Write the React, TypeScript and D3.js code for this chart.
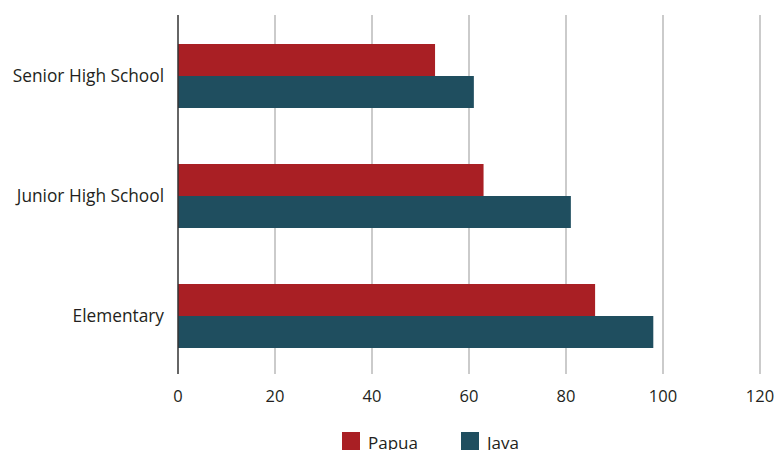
import React from "react";
import * as d3 from "d3";

const categories = ["Senior High School", "Junior High School", "Elementary"];
const seriesNames = ["Papua", "Java"];
const papua = [53, 63, 86];
const java = [61, 81, 98];
const xTicks = [0, 20, 40, 60, 80, 100, 120];
const colors = ["#a91f24", "#1f4e5f"];

export default function App() {
  const width = 777;
  const height = 450;
  const x = d3.scaleLinear().domain([0, 120]).range([178, 760]);
  const y = d3.scalePoint<string>().domain(categories).range([16, 376]).padding(0.5);
  const inner = d3.scaleBand<string>().domain(seriesNames).range([-32, 32]);
  const values = [papua, java];
  const font = "'Open Sans', sans-serif";

  return (
    <svg width={width} height={height} style={{ position: "absolute", left: 0, top: 0 }}>
      <rect width={width} height={height} fill="#fff" />
      {xTicks.map((t) =>
        t === 0 ? null : (
          <line key={t} x1={x(t)} x2={x(t)} y1={15} y2={374} stroke="#a8a8a8" strokeWidth={1.2} />
        )
      )}
      {seriesNames.map((s, si) =>
        categories.map((c, ci) => (
          <rect
            key={s + c}
            x={x(0)}
            y={(y(c) as number) + (inner(s) as number)}
            width={x(values[si][ci]) - x(0)}
            height={inner.bandwidth()}
            fill={colors[si]}
          />
        ))
      )}
      <line x1={x(0)} x2={x(0)} y1={15} y2={374} stroke="#333" strokeWidth={1.5} />
      {xTicks.map((t) => (
        <text key={t} x={x(t)} y={402} textAnchor="middle" fontFamily={font} fontSize={16.5} fill="#231f20">
          {t}
        </text>
      ))}
      {categories.map((c) => (
        <text key={c} x={164} y={(y(c) as number) + 6} textAnchor="end" fontFamily={font} fontSize={17.3} fill="#231f20">
          {c}
        </text>
      ))}
      {seriesNames.map((s, i) => {
        const lx = i === 0 ? 342 : 461;
        return (
          <g key={s}>
            <rect x={lx} y={432} width={18} height={18} fill={colors[i]} />
            <text x={lx + 26} y={449} fontFamily={font} fontSize={17} fill="#231f20">
              {s}
            </text>
          </g>
        );
      })}
    </svg>
  );
}
